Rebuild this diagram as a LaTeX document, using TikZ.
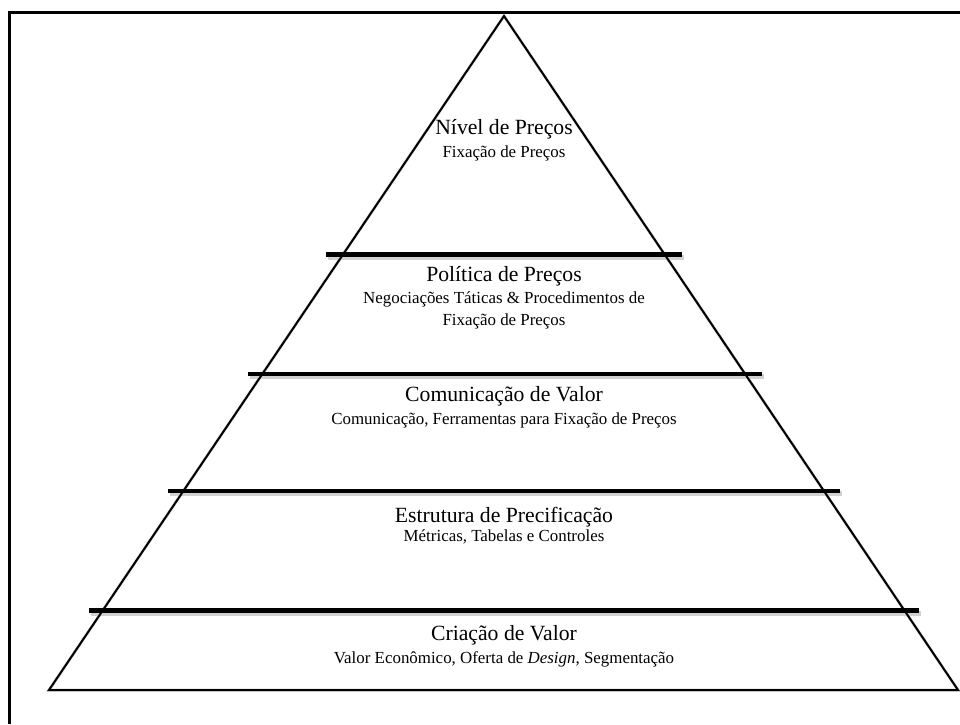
\documentclass[tikz,border=0pt]{standalone}
\usepackage{fontspec}
\setmainfont{Liberation Serif}
\begin{document}
\begin{tikzpicture}[x=1pt,y=-1pt,
  frame/.style={line width=3pt},
  edge/.style={line width=2pt,line join=miter},
  bar/.style={line width=4.6pt},
  shade/.style={draw=black!18,line width=3pt},
  title/.style={anchor=base,inner sep=0pt,font=\fontsize{21.7}{24}\selectfont},
  sub/.style={anchor=base,inner sep=0pt,font=\fontsize{16.9}{19}\selectfont}]
\useasboundingbox (0,0) rectangle (960,724);
\fill[white] (0,0) rectangle (960,724);

% outer frame (only top and left edges fall inside the page)
\draw[frame] (9,724) -- (9,12) -- (960,12);

% pyramid corners
\coordinate (apex) at (504,16);
\coordinate (bl) at (49,690);
\coordinate (br) at (958,690);

% soft shadow under the outline and the dividing bars
\begin{scope}[shift={(1.5,2.5)}]
  \draw[shade] (apex) -- (bl) -- (br) -- cycle;
  \draw[shade,line width=5pt] (326,254.5) -- (682,254.5);
  \draw[shade,line width=5pt] (248,374) -- (762,374);
  \draw[shade,line width=5pt] (168,491) -- (840,491);
  \draw[shade,line width=5pt] (89,610.5) -- (919,610.5);
\end{scope}

% pyramid outline
\draw[edge] (apex) -- (bl) -- (br) -- cycle;

% dividing bars between the levels
\coordinate (b1l) at (326,254.5); \coordinate (b1r) at (682,254.5);
\coordinate (b2l) at (248,374);   \coordinate (b2r) at (762,374);
\coordinate (b3l) at (168,491);   \coordinate (b3r) at (840,491);
\coordinate (b4l) at (89,610.5);  \coordinate (b4r) at (919,610.5);
\draw[bar] (b1l) -- (b1r);
\draw[bar] (b2l) -- (b2r);
\draw[bar] (b3l) -- (b3r);
\draw[bar] (b4l) -- (b4r);

% level labels
\node[title] (t1) at (504,134) {Nível de Preços};
\node[sub]   (s1) at (504,157) {Fixação de Preços};

\node[title] (t2)  at (504,281) {Política de Preços};
\node[sub]   (s2a) at (504,303) {Negociações Táticas \& Procedimentos de};
\node[sub]   (s2b) at (504,325) {Fixação de Preços};

\node[title] (t3) at (504,401) {Comunicação de Valor};
\node[sub]   (s3) at (504,424) {Comunicação, Ferramentas para Fixação de Preços};

\node[title] (t4) at (504,522) {Estrutura de Precificação};
\node[sub]   (s4) at (504,541) {Métricas, Tabelas e Controles};

\node[title] (t5) at (504,640) {Criação de Valor};
\node[sub]   (s5) at (504,663) {Valor Econômico, Oferta de \textit{Design}, Segmentação};
\end{tikzpicture}
\end{document}
